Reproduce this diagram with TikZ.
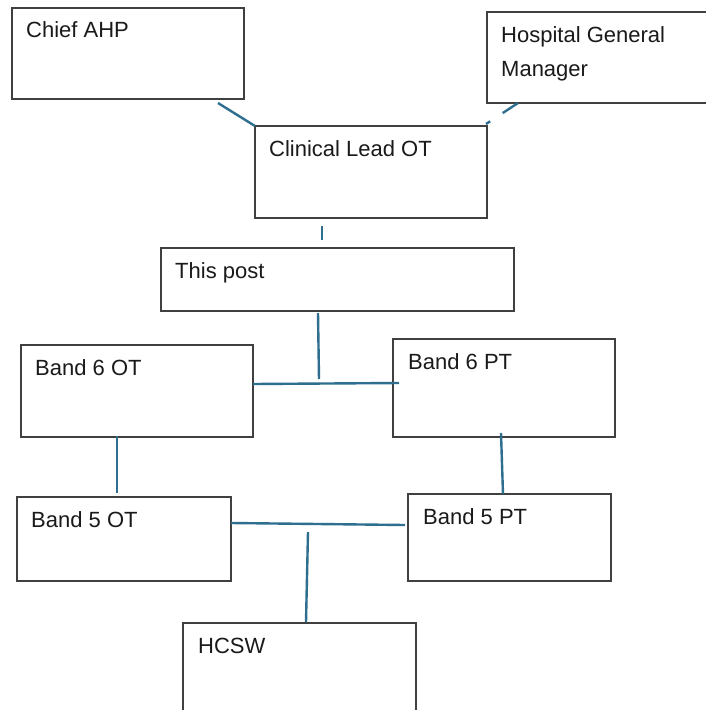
\documentclass[tikz,border=0pt]{standalone}
\usepackage{fontspec}
\setmainfont{Liberation Sans}
\definecolor{linkblue}{HTML}{2E6E8E}
\definecolor{boxgray}{HTML}{404040}
\definecolor{txt}{HTML}{1A1A1A}
\begin{document}
\begin{tikzpicture}[x=1pt,y=-1pt,
  box/.style={draw=boxgray, line width=1.4pt, rectangle, anchor=north west, inner sep=0pt, outer sep=0pt},
  lbl/.style={anchor=base west, inner sep=0pt, text=txt, font=\fontsize{22}{34}\selectfont, align=left},
  link/.style={draw=linkblue, line width=2.4pt}]
\useasboundingbox (0,0) rectangle (706,710);
\fill[white] (0,0) rectangle (706,710);
\clip (0,0) rectangle (706,710);
% boxes
\node[box, minimum width=232pt, minimum height=91pt] (chief) at (12,8) {};
\node[box, minimum width=240pt, minimum height=91pt] (hgm) at (487,12) {};
\node[box, minimum width=232pt, minimum height=92pt] (clin) at (255,126) {};
\node[box, minimum width=353pt, minimum height=63pt] (post) at (161,248) {};
\node[box, minimum width=232pt, minimum height=92pt] (b6ot) at (21,345) {};
\node[box, minimum width=222pt, minimum height=98pt] (b6pt) at (393,339) {};
\node[box, minimum width=214pt, minimum height=84pt] (b5ot) at (17,497) {};
\node[box, minimum width=203pt, minimum height=87pt] (b5pt) at (408,494) {};
\node[box, minimum width=233pt, minimum height=100pt] (hcsw) at (183,623) {};
% labels
\node[lbl] (chief-t) at ([shift={(14,29)}]chief.north west) {Chief AHP};
\node[lbl] (hgm-t) at ([shift={(14,64)}]hgm.north west) {Hospital General\\Manager};
\node[lbl] (clin-t) at ([shift={(14,30)}]clin.north west) {Clinical Lead OT};
\node[lbl] (post-t) at ([shift={(14,30)}]post.north west) {This post};
\node[lbl] (b6ot-t) at ([shift={(14,30)}]b6ot.north west) {Band 6 OT};
\node[lbl] (b6pt-t) at ([shift={(15,30)}]b6pt.north west) {Band 6 PT};
\node[lbl] (b5ot-t) at ([shift={(14,30)}]b5ot.north west) {Band 5 OT};
\node[lbl] (b5pt-t) at ([shift={(15,30)}]b5pt.north west) {Band 5 PT};
\node[lbl] (hcsw-t) at ([shift={(15,30)}]hcsw.north west) {HCSW};
% connectors
\draw[link] ([shift={(-26,4)}]chief.south east) -- (clin.north west);
\draw[link, dash pattern=on 5pt off 15pt on 18pt off 5pt] ([shift={(-1,-2)}]clin.north east) -- ([shift={(31,0)}]hgm.south west);
\draw[link] ([shift={(-49,8)}]clin.south) -- ([shift={(-15.5,-8)}]post.north);
\draw[link] ([shift={(-19.5,2)}]post.south) -- ([shift={(-18.5,68)}]post.south);
\draw[link] ([shift={(0,-7)}]b6ot.east) -- ([shift={(6,-5)}]b6pt.west);
\draw[link] ([shift={(-20,-1)}]b6ot.south) -- ([shift={(-7,-4)}]b5ot.north);
\draw[link] ([shift={(-3,-4)}]b6pt.south) -- ([shift={(-6.5,0)}]b5pt.north);
\draw[link] ([shift={(0,-16)}]b5ot.east) -- ([shift={(-3,-12.5)}]b5pt.west);
\draw[link] ([shift={(8.5,-91)}]hcsw.north) -- ([shift={(6.5,-1)}]hcsw.north);
\end{tikzpicture}
\end{document}
